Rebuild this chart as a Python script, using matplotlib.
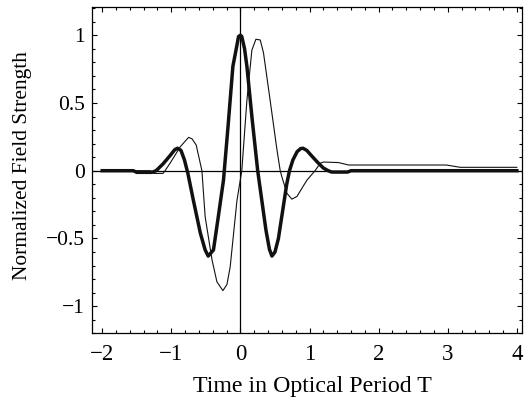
import matplotlib
matplotlib.use("Agg")
import matplotlib.pyplot as plt
import numpy as np
from matplotlib.ticker import MultipleLocator

# Thick curve (symmetric pulse)
thick_t = [-2.0, -1.55, -1.5, -1.28, -1.22, -1.12, -1.02, -0.95, -0.91, -0.86, -0.81,
           -0.76, -0.68, -0.58, -0.51, -0.466, -0.39, -0.32, -0.245, -0.18, -0.109,
           -0.06, -0.027, 0.0, 0.02, 0.06, 0.094, 0.17, 0.25, 0.31, 0.37, 0.42,
           0.456, 0.50, 0.55, 0.61, 0.67, 0.71, 0.76, 0.82, 0.87, 0.905, 0.96,
           1.03, 1.12, 1.2, 1.27, 1.32, 1.55, 1.6, 4.0]
thick_v = [0.0, 0.0, -0.012, -0.012, 0.0, 0.05, 0.11, 0.155, 0.166, 0.15, 0.08,
           -0.02, -0.22, -0.46, -0.585, -0.63, -0.585, -0.34, -0.07, 0.32, 0.77,
           0.90, 0.99, 1.0, 0.99, 0.90, 0.77, 0.38, 0.0, -0.22, -0.44, -0.58,
           -0.63, -0.60, -0.50, -0.30, -0.10, 0.0, 0.08, 0.14, 0.163, 0.166, 0.15,
           0.11, 0.06, 0.02, 0.0, -0.01, -0.01, 0.0, 0.0]

# Thin curve (shifted, asymmetric pulse)
thin_t = [-2.0, -1.3, -1.25, -1.12, -1.09, -1.016, -0.87, -0.75, -0.70, -0.64,
          -0.557, -0.51, -0.41, -0.34, -0.253, -0.195, -0.148, -0.05, 0.02, 0.094,
          0.166, 0.224, 0.287, 0.334, 0.43, 0.53, 0.576, 0.60, 0.673, 0.745, 0.818,
          0.962, 1.08, 1.155, 1.2, 1.42, 1.565, 2.98, 3.18, 4.0]
thin_v = [0.0, 0.0, -0.02, -0.02, 0.0, 0.057, 0.177, 0.246, 0.235, 0.19,
          0.0, -0.34, -0.66, -0.82, -0.885, -0.84, -0.71, -0.22, 0.0, 0.52,
          0.89, 0.97, 0.965, 0.87, 0.52, 0.15, 0.0, -0.045, -0.167, -0.21, -0.19,
          -0.07, 0.0, 0.055, 0.064, 0.06, 0.042, 0.042, 0.025, 0.025]

xticks = [-2, -1, 0, 1, 2, 3, 4]
yticks = [-1, -0.5, 0, 0.5, 1]
ytick_labels = ["\u22121", "\u22120.5", "0", "0.5", "1"]
xtick_labels = ["\u22122", "\u22121", "0", "1", "2", "3", "4"]

plt.rcParams['font.family'] = ['Liberation Serif', 'DejaVu Serif']

fig = plt.figure(figsize=(5.26, 4.01), dpi=100)
ax = fig.add_axes([92.3 / 526, 1 - 333.3 / 401, (521.7 - 92.3) / 526, (333.3 - 7.3) / 401])

ax.axhline(0, color='black', lw=0.9, zorder=1)
ax.axvline(0, color='black', lw=0.9, zorder=1)
ax.plot(thin_t, thin_v, color='#111111', lw=0.8, zorder=2)
ax.plot(thick_t, thick_v, color='#111111', lw=2.5, zorder=3, solid_joinstyle='round')

ax.set_xlim(-2.143, 4.07)
ax.set_ylim(-1.2, 1.206)
ax.set_xticks(xticks)
ax.set_xticklabels(xtick_labels)
ax.set_yticks(yticks)
ax.set_yticklabels(ytick_labels)
ax.xaxis.set_minor_locator(MultipleLocator(0.2))
ax.yaxis.set_minor_locator(MultipleLocator(0.1))
ax.tick_params(which='both', direction='in', top=True, right=True, width=0.8)
ax.tick_params(which='major', length=3.5)
ax.tick_params(which='minor', length=2)
ax.tick_params(axis='x', pad=8, labelsize=16.5)
ax.tick_params(axis='y', pad=5.5, labelsize=15.5)
for s in ax.spines.values():
    s.set_linewidth(0.9)

ax.set_xlabel("Time in Optical Period T", fontsize=17.2)
ax.set_ylabel("Normalized Field Strength", fontsize=15.4)
ax.yaxis.set_label_coords(-0.14, 0.513)
ax.xaxis.set_label_coords(0.513, -0.13)

fig.savefig("out.png", dpi=100)
